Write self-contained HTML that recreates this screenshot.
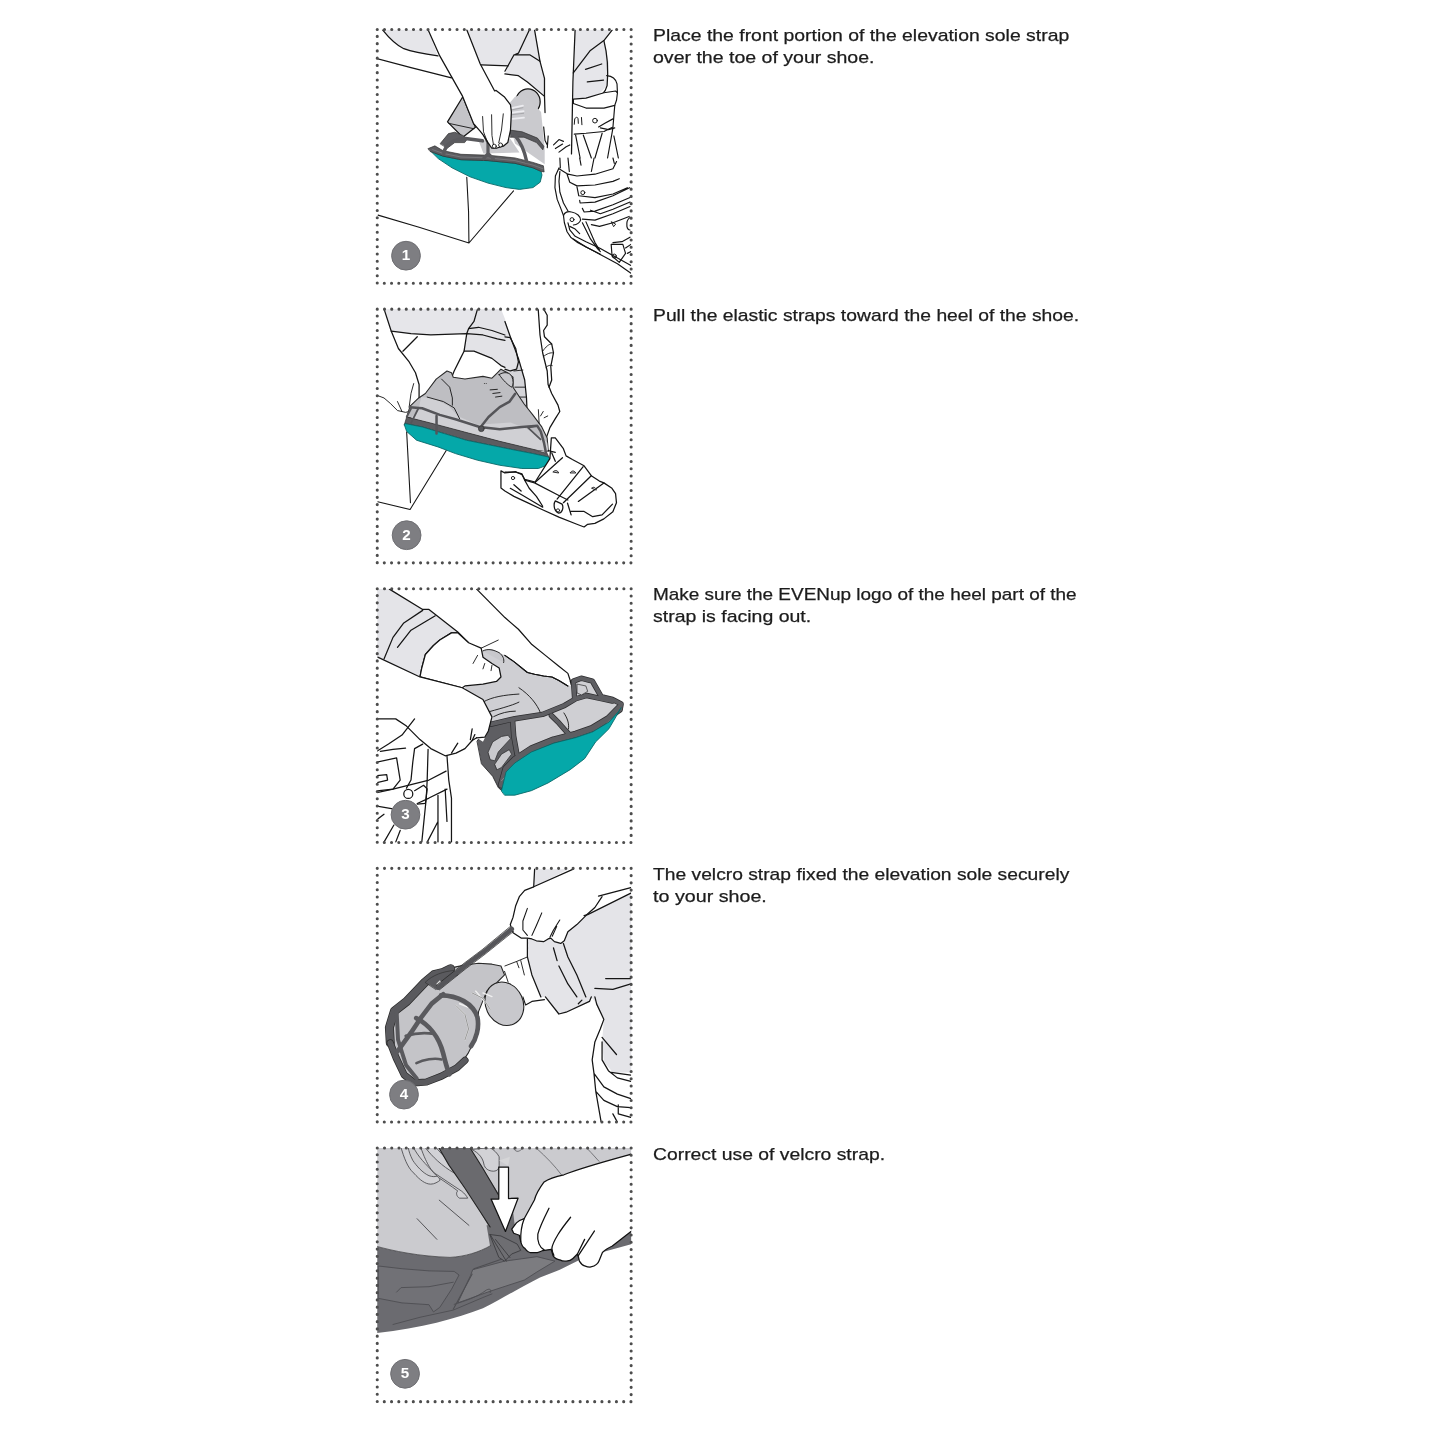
<!DOCTYPE html><html><head><meta charset='utf-8'><style>
html,body{margin:0;padding:0;background:#fff;}
body{width:1445px;height:1445px;position:relative;overflow:hidden;}
.t{position:absolute;left:653.4px;font-family:"Liberation Sans",sans-serif;font-size:17px;line-height:20px;color:#1c1c1c;white-space:nowrap;transform-origin:0 0;will-change:transform;-webkit-text-stroke:0.25px #1c1c1c;}
svg{position:absolute;left:0;top:0;will-change:transform;}
</style></head><body>
<svg width="1445" height="1445" viewBox="0 0 1445 1445">
<defs><clipPath id="c0"><rect x="377.25" y="29.55" width="253.90" height="253.70"/></clipPath><clipPath id="c1"><rect x="377.25" y="309.15" width="253.90" height="253.70"/></clipPath><clipPath id="c2"><rect x="377.25" y="588.75" width="253.90" height="253.70"/></clipPath><clipPath id="c3"><rect x="377.25" y="868.35" width="253.90" height="253.70"/></clipPath><clipPath id="c4"><rect x="377.25" y="1147.95" width="253.90" height="253.70"/></clipPath></defs>
<g clip-path="url(#c0)"><g transform="translate(375,28) scale(0.179931)" stroke-linejoin="round" stroke-linecap="round" fill="none" stroke="#151515" stroke-width="7">
<!-- light gray areas -->
<path d="M42,10 C70,45 110,90 160,115 C200,130 240,140 240,140 C280,148 320,152 350,155 L295,10 Z" fill="#e6e6ea" stroke="none"/>
<path d="M512,10 L857,10 L797,140 L772,150 L740,210 L590,205 Z" fill="#e6e6ea" stroke="none"/><path d="M740,210 L772,150 L797,140 L857,10 L887,10 L917,185 L942,280 L942,380 L847,300 L797,265 L722,255 Z" fill="#e6e6ea" stroke="none"/>
<path d="M1112,10 L1320,10 L1275,70 L1300,200 L1290,320 L1230,385 L1170,405 L1102,410 Z" fill="#e6e6ea" stroke="none"/>
<!-- knee -->
<ellipse cx="850" cy="410" rx="68" ry="72" fill="#c9c9cd"/>
<!-- shoe gray parts -->
<path d="M748,417 L778,382 L828,367 L923,467 L943,667 L943,757 L778,642 L758,567 Z" fill="#cacace" stroke="none"/>
<path d="M578,632 L753,617 L803,692 L603,697 Z" fill="#cacace" stroke="none"/>
<path d="M760,445 L822,432 M760,470 L826,462 M765,505 L828,498" stroke="#ececf0" stroke-width="10"/>
<path d="M760,455 L822,443 M760,482 L826,474" stroke="#8a8a8e" stroke-width="3"/>
<path d="M403,522 L488,382 L558,552 L488,607 Z" fill="#c4c4c8"/>
<path d="M410,530 L550,560" stroke-width="5"/>
<!-- heel dark -->
<path d="M363,642 L408,587 L443,579 L488,597 L513,617 L498,637 L443,637 L403,667 Z" fill="#5e5e62" stroke="#333" stroke-width="4"/>
<!-- teal sole -->
<path d="M308,682 L378,712 L478,732 L628,737 L778,752 L878,777 L923,797 L928,817 L918,857 L878,887 L803,897 L728,887 L628,862 L528,827 L428,777 L353,727 Z" fill="#05a8a9" stroke="#0b6a6a" stroke-width="5"/>
<!-- rim band -->
<path d="M296,670 L333,655 L378,682 L478,702 L628,707 L778,722 L878,747 L936,766 L940,800 L923,797 L878,777 L778,752 L628,737 L478,732 L378,712 L308,687 Z" fill="#5c5c60" stroke="#333" stroke-width="4"/><path d="M320,676 L378,697 L478,717 L628,722 L778,737 L878,762 L932,782" stroke="#8e8e92" stroke-width="3"/>
<!-- straps -->
<path d="M383,697 C388,642 443,617 503,614 L598,627" stroke="#5a5a5e" stroke-width="20"/>
<path d="M598,572 L628,637 L628,697 M628,697 L603,727 M628,697 L658,727" stroke="#5a5a5e" stroke-width="18"/>
<path d="M748,567 L818,577 L903,612 L938,657 L933,677 L898,637 L828,607 L753,607 Z" fill="#5a5a5e" stroke="#333" stroke-width="4"/>
<path d="M778,597 C803,627 828,667 843,742" stroke="#5a5a5e" stroke-width="19"/>
<!-- arm + hand (white) -->
<path d="M295,10 L360,155 L425,270 L487,380 L548,532 L583,572 L603,597 L628,637 L648,667 L678,667 L713,657 L738,637 L753,567 L758,467 L753,427 L718,382 L673,347 L665,350 L585,200 L510,10 Z" fill="#fff" stroke="none"/><path d="M295,10 L360,155 L425,270 L487,380 L548,532 L583,572 L603,597 L628,637 L648,667 L678,667 L713,657 L738,637 L753,567 L758,467 L753,427 L718,382 L673,347 L665,350 L585,200 L510,10"/>
<path d="M598,492 L603,577 L628,642 M648,482 L650,597 L658,647 M713,477 L703,567 L688,637" stroke-width="5"/>
<circle cx="663" cy="657" r="11" fill="#fff" stroke-width="5"/>
<circle cx="698" cy="650" r="11" fill="#fff" stroke-width="5"/>
<!-- upper lines -->
<path d="M42,10 C70,45 110,90 160,115 C200,130 240,140 350,155"/>
<path d="M10,170 L200,220 L425,277"/>
<path d="M857,12 L797,140 L772,150 L722,240 M772,150 L862,150 L917,185 L942,280 L942,380 M722,255 L797,265 L847,300 L942,380"/>
<path d="M887,12 L917,185 M942,380 L945,470 M590,205 L740,210"/>
<path d="M1112,12 L1100,300 L1092,700"/>
<path d="M1318,12 L1272,70 L1197,125 L1102,250"/>
<path d="M1272,70 C1285,120 1300,200 1290,320 C1280,360 1250,385 1230,385 M1170,230 L1260,200 M1180,300 L1270,290 M1102,410 L1230,385"/>
<!-- box -->
<path d="M17,1040 L245,1107 L522,1195 L770,905 M510,830 L520,1022 L522,1195" stroke-width="6"/>
<!-- brace (TR quad coords) -->
</g>
<g transform="translate(505,28) scale(0.0899654)" stroke-linejoin="round" stroke-linecap="round" fill="none" stroke="#151515" stroke-width="13">
<path d="M760,790 L900,780 L1100,720 L1230,700 L1250,720 L1240,800 L1220,860 L1100,890 L900,890 L760,840 Z" fill="#fff"/>
<path d="M1130,530 C1180,535 1230,560 1245,620 L1250,720"/>
<path d="M1220,860 L1200,1100 M770,1180 L900,1170 L1100,1150 L1200,1100"/>
<path d="M770,1070 L775,1010 C790,985 810,990 812,1010 L815,1060 M850,995 L855,1075" stroke-width="11"/>
<circle cx="1000" cy="1030" r="26" stroke-width="11"/>
<path d="M1040,1100 L1110,1060 L1200,1010 M1060,1110 L1150,1130 L1220,1110"/>
<path d="M785,1190 L835,1445 M870,1190 L960,1445 M1080,1170 L1000,1445 M1200,1110 L1140,1445 M1210,1200 L1260,1445"/>
<path d="M430,1100 L445,1250 L470,1300 M480,1200 L470,1330 M540,1300 L600,1240 L650,1260 M560,1340 L640,1290 M600,1380 L680,1320 L720,1300"/>
</g>
<g transform="translate(505,158) scale(0.0899654)" stroke-linejoin="round" stroke-linecap="round" fill="none" stroke="#151515" stroke-width="13">
<path d="M600,110 L560,200 L555,330 L580,460 L620,560 L650,640 L660,720 L690,820 L730,880 L800,935 L950,1015 L1100,1095 L1250,1175 L1400,1280"/>
<path d="M610,150 L600,260 L610,380 L650,500 L700,590"/>
<path d="M700,720 L720,800 L780,870 L900,930 L1050,1000 L1200,1085 L1400,1195"/>
<path d="M760,900 L900,990 L1060,1070"/>
<path d="M600,120 L700,180 L800,200 L1000,180 L1200,120 L1240,40 M690,180 L720,270 L800,310 L1000,300 L1200,260 L1270,230"/>
<path d="M800,320 L820,420 L1000,440 L1200,400 L1360,330 M830,470 L835,500 L1000,490 L1200,420 L1385,330"/>
<circle cx="865" cy="385" r="22" stroke-width="11"/>
<path d="M860,560 L880,600 L1000,590 L1200,520 L1390,440 M950,580 L1060,620 L1200,570 L1390,490"/>
<path d="M860,680 L1000,690 L1200,620 L1390,540 M960,740 L1050,760 L1200,720 L1380,650"/>
<path d="M650,640 C660,600 700,590 740,600 C800,610 840,650 840,690 C830,720 800,740 760,745"/>
<circle cx="745" cy="685" r="22" stroke-width="11"/>
<path d="M720,760 L780,790 L830,840 M860,720 L950,900 L1030,1010 L1060,1040 M900,710 L1000,940 L1050,1020"/>
<path d="M1180,960 L1190,1090 L1270,1160 L1340,1060 L1310,960 Z M1200,940 L1300,930 L1390,880"/>
<circle cx="1215" cy="1090" r="22" stroke-width="11"/>
<path d="M1185,710 L1230,735 L1210,760 Z" stroke-width="10"/>
<path d="M1390,660 C1360,680 1350,720 1355,760 C1360,790 1380,800 1390,800 M1340,1000 L1400,960 M1360,1060 L1400,1040"/>
<path d="M610,0 L615,110 M700,0 L715,150 M830,0 L845,80 M990,0 L960,150 M1200,0 L1215,60"/>
</g>
</g>
<g transform="translate(377.25,29.55)">
<circle cx="28.75" cy="226.15" r="14.4" fill="#7e7e82" stroke="#6e6e72" stroke-width="1"/>
<text x="28.75" y="230.55" text-anchor="middle" font-family="Liberation Sans" font-weight="bold" font-size="15.2" fill="#fff">1</text>
<rect x="0" y="0" width="253.9" height="253.7" fill="none" stroke="#4d4d4d" stroke-width="3.1" stroke-linecap="round" stroke-dasharray="0 7.2543"/>
</g>
<g clip-path="url(#c1)"><g transform="translate(375,308) scale(0.179931)" stroke-linejoin="round" stroke-linecap="round" fill="none" stroke="#151515" stroke-width="7">
<!-- light gray areas -->
<path d="M50,5 L570,5 L550,75 L520,115 L510,142 L310,150 L200,142 L90,128 Z" fill="#e6e6ea" stroke="none"/>
<path d="M550,5 L700,5 L722,60 L752,160 L797,280 L832,400 L842,500 L847,615 L770,560 L736,360 L722,330 L700,320 L650,280 L550,240 L495,240 L510,142 L520,115 Z" fill="#e3e3e7" stroke="none"/>
<path d="M722,340 L752,350 L787,340 L800,300 L832,400 L842,500 L847,615 L800,600 L760,500 L700,380 Z" fill="#d5d5d9" stroke="none"/>
<!-- lines top -->
<path d="M50,5 L90,128 L130,225 L190,300 L225,360 L245,425 L245,500 L235,530"/>
<path d="M90,128 L200,142 L310,150 L510,142 L600,150 L680,172 L722,180"/>
<path d="M570,5 L550,75 L520,115 L510,142 L495,240 L475,280 L440,350 L430,375"/>
<path d="M520,115 L575,107 L650,125 L722,150 M495,240 L550,240 L650,280 L700,320 L722,330"/>
<path d="M155,240 L235,160"/>
<path d="M722,75 L752,160 L797,280 L832,400 L842,500 L847,615"/>
<path d="M722,160 L752,165 L782,225 L797,300 L787,340 L752,350 L722,340"/>
<path d="M772,350 L822,345 M777,440 L832,440 M772,495 L837,495" stroke-width="5"/>
<!-- right leg -->
<path d="M907,5 L917,150 L932,250 L957,350 L962,425 L982,475 L1017,540 L1027,575 L1002,615 L972,665 L952,722"/>
<path d="M937,5 L957,40 L957,95 L937,125 L942,160 L982,200 L992,250 L977,325 L982,400 L967,440"/>
<path d="M932,240 C950,215 965,200 982,200 M935,270 C955,255 975,245 992,250 M950,330 C965,315 980,318 985,320" stroke-width="5"/>
<!-- left fingers -->
<path d="M215,420 L200,475 L190,550 M10,485 L50,500 L85,530 L125,570 L170,580 L190,575 M125,520 L150,575" stroke-width="5"/>
<!-- shoe -->
<path d="M195,545 L243,500 L280,475 L340,395 L400,350 L425,360 L435,385 L500,395 L600,380 L650,390 L680,360 L700,340 L736,360 L767,385 L767,440 L791,477 L828,532 L877,594 L927,661 L957,723 L963,797 L877,785 L693,741 L508,692 L324,643 L176,606 Z" fill="#bebec2" stroke="#2a2a2a" stroke-width="6"/>
<path d="M256,495 L324,501 L410,545 L459,600 L570,649 L754,637 L877,686 L957,748 L963,797 L877,785 L693,741 L508,692 L324,643 L200,612 L243,563 Z" fill="#d0d0d4" stroke="none"/>
<path d="M370,395 L415,440 L430,500 L430,540 M290,495 L380,520 L440,555 L470,615" stroke-width="5"/>
<path d="M690,370 C720,350 750,360 760,380 C770,400 770,430 760,440 C740,430 710,400 690,370 Z" fill="#c8c8cc" stroke-width="5"/>
<circle cx="608" cy="420" r="3" fill="#333" stroke="none"/><circle cx="618" cy="420" r="3" fill="#333" stroke="none"/>
<path d="M640,455 L680,452 M655,475 L695,470 M670,495 L705,490" stroke-width="5"/>
<!-- rim -->
<path d="M163,649 L176,606 L324,643 L508,692 L693,741 L877,785 L957,809 L975,846 L963,828 L877,809 L754,785 L631,760 L508,735 L385,698 L262,661 L170,643 Z" fill="#5c5c60" stroke="#333" stroke-width="4"/>
<!-- teal -->
<path d="M170,643 L262,661 L385,698 L508,735 L631,760 L754,785 L877,809 L963,828 L976,846 L963,871 L908,892 L816,892 L693,874 L570,846 L447,809 L350,772 L231,735 L176,686 L163,649 Z" fill="#05a8a9" stroke="#0b6a6a" stroke-width="5"/>
<!-- straps -->
<path d="M194,551 L262,557 L360,594 L447,618 L582,661 L693,674 L816,661 L902,655 L921,686 L939,748 L951,809" stroke="#555559" stroke-width="14"/>
<path d="M342,600 L342,698 M582,668 L631,606 L693,551 L748,520 L779,477" stroke="#555559" stroke-width="14"/>
<path d="M902,655 L850,665 L920,730" stroke="#555559" stroke-width="10"/>
<circle cx="591" cy="671" r="16" fill="#555559" stroke="#333" stroke-width="4"/>
<path d="M200,560 L176,606 M240,560 L200,640" stroke="#555559" stroke-width="10"/>
<!-- helper hand fingers -->
<path d="M908,565 L912,640 M935,575 L920,600 M960,600 L940,610" stroke-width="5"/>
<!-- box -->
<path d="M176,690 L197,1082 M15,1077 L195,1120 L395,793" stroke-width="6"/>
<!-- brace boot -->
<path d="M700,905 L722,917 L782,910 L817,927 L832,952 L890,967 L972,837 L980,722 L1002,722 L1047,782 L1062,822 L1097,842 L1162,877 L1202,932 L1247,962 L1272,972 L1317,1002 L1337,1032 L1342,1082 L1322,1132 L1272,1172 L1222,1197 L1182,1202 L1162,1217 L1122,1202 L1022,1162 L922,1117 L847,1082 L772,1047 L722,1017 L700,1000 Z" fill="#fff"/>
<path d="M722,912 L782,912 L817,922 L832,957 L857,1002 L897,1047 L932,1102 M752,1002 L822,1042 L932,1107 M772,982 L812,1017" />
<circle cx="767" cy="945" r="9" stroke-width="5"/>
<path d="M832,957 L887,972 L1022,1042 L1072,1067 M892,967 L1042,832 M1012,1062 L1157,882 M1047,1082 L1202,932 M1130,1075 L1272,972"/>
<path d="M1002,1072 C990,1090 995,1130 1020,1140 C1040,1140 1050,1110 1040,1090 Z" />
<circle cx="1017" cy="1125" r="9" stroke-width="5"/>
<path d="M1070,1085 L1090,1150 M1090,1130 L1160,1130 L1210,1160 L1262,1150 L1320,1090"/>
<path d="M990,910 C1000,900 1015,900 1020,915 Z M1085,915 C1095,900 1110,905 1115,915 Z M1205,1000 C1215,990 1230,1000 1230,1010 Z" fill="#d0d0d4" stroke-width="5"/>
<path d="M982,805 L1002,852 M962,792 L1002,802"/>
</g>
</g>
<g transform="translate(377.25,309.15)">
<circle cx="29.35" cy="226.05" r="14.4" fill="#7e7e82" stroke="#6e6e72" stroke-width="1"/>
<text x="29.35" y="230.45" text-anchor="middle" font-family="Liberation Sans" font-weight="bold" font-size="15.2" fill="#fff">2</text>
<rect x="0" y="0" width="253.9" height="253.7" fill="none" stroke="#4d4d4d" stroke-width="3.1" stroke-linecap="round" stroke-dasharray="0 7.2543"/>
</g>
<g clip-path="url(#c2)"><g transform="translate(375,587) scale(0.179931)" stroke-linejoin="round" stroke-linecap="round" fill="none" stroke="#151515" stroke-width="7">
<!-- sleeve gray -->
<path d="M10,10 L80,10 L265,125 L300,125 L460,250 L460,255 L425,255 L360,295 L325,325 L280,375 L260,450 L250,500 L15,390 L10,390 Z" fill="#e4e4e8" stroke="none"/>
<path d="M80,12 L265,125 L300,125 L460,250 L520,310"/>
<path d="M50,400 L100,280 L160,200 L265,130 M125,335 L200,240 L335,160"/>
<path d="M250,500 L260,450 L280,375 L325,325 L360,295 L425,255 L460,255"/>
<!-- shoe light gray -->
<path d="M500,560 L560,420 L600,350 L650,345 L722,380 L772,415 L847,475 L887,485 L937,495 L983,500 L1022,520 L1072,550 L1100,545 L1122,505 L1172,520 L1212,550 L1247,590 L1287,620 L1322,615 L1368,650 L1340,720 L1300,750 L1208,806 L1116,837 L993,868 L869,917 L777,978 L728,1028 L703,1132 L685,1114 L654,1052 L593,984 L568,855 L600,800 L560,700 Z" fill="#cfcfd3" stroke="none"/>
<path d="M722,380 L772,415 L847,475 L887,485 L937,495 L983,500 L1022,520 L1072,550" stroke-width="6"/>
<path d="M600,640 C650,610 720,600 800,595 M610,700 C680,680 760,660 800,640 M660,720 C700,700 740,690 780,690 M800,560 C860,600 900,650 920,700 M1050,700 C1070,730 1080,760 1075,790" stroke-width="5"/>
<!-- hand 1 (upper, white) -->
<path d="M250,500 L260,450 L280,375 L325,325 L360,295 L425,255 L460,255 L520,310 L590,340 L600,390 L650,425 L690,450 L700,500 L675,525 L600,540 L500,550 L485,560 Z" fill="#fff"/>
<path d="M545,425 L570,380 M600,455 L610,425 M645,465 L650,435 M590,340 L685,295" stroke-width="5"/>
<path d="M600,355 C630,340 660,350 690,365 C710,380 720,400 715,420" fill="#c8c8cc" stroke-width="5"/>
<!-- top right arm line -->
<path d="M565,12 L722,170 L797,235 L872,320 L947,380 L1022,440 L1072,480 L1087,525 L1107,560"/>
<path d="M1085,525 L1090,545 L1108,560" stroke-width="5"/>
<path d="M722,380 L772,415 L847,475 L887,485 L937,495 L983,500 L1022,520 L1072,550" stroke-width="6"/>
<!-- dark frame -->
<path d="M568,855 L642,763 L700,750 L765,744 L771,830 L789,929 L777,978 L728,1028 L703,1132 L685,1114 L654,1052 L593,984 Z" fill="#5e5e62" stroke="#2e2e30" stroke-width="5"/>
<path d="M629,917 L654,861 L703,831 L740,824 L753,843 L685,917 L666,966 L642,960 Z" fill="#c9c9cd" stroke="#2e2e30" stroke-width="4"/>
<path d="M666,984 L703,929 L746,904 L759,929 L703,1003 L679,1015 Z" fill="#c9c9cd" stroke="#2e2e30" stroke-width="4"/>
<g stroke="#2e2e30" stroke-width="30"><path d="M642,763 L777,732 L931,708 L1054,658 L1116,621 L1177,603 L1257,621 L1319,634"/>
<path d="M765,744 L771,830 L789,929 M980,714 L1023,757 L1066,806 L1091,830"/>
<path d="M1109,615 L1103,523 L1146,507 L1208,523 L1257,609 L1320,625 L1368,650 L1362,683 L1325,708"/>
<path d="M703,1100 L728,1010 L777,960 L869,900 L993,850 L1116,818 L1208,786 L1300,730 L1356,672" stroke-width="40"/></g>
<g stroke="#5e5e62" stroke-width="22"><path d="M642,763 L777,732 L931,708 L1054,658 L1116,621 L1177,603 L1257,621 L1319,634"/>
<path d="M765,744 L771,830 L789,929 M980,714 L1023,757 L1066,806 L1091,830"/>
<path d="M1109,615 L1103,523 L1146,507 L1208,523 L1257,609 L1320,625 L1368,650 L1362,683 L1325,708"/>
<path d="M703,1100 L728,1010 L777,960 L869,900 L993,850 L1116,818 L1208,786 L1300,730 L1356,672" stroke-width="32"/></g>
<path d="M1125,540 L1172,550 L1182,580 L1148,600 L1125,590 Z" fill="#d0d0d4" stroke="#2e2e30" stroke-width="4"/>
<path d="M703,1077 L777,997 L869,935 L993,886 L1116,849 L1239,800 L1319,732" stroke="#9a9a9e" stroke-width="4"/>
<!-- teal -->
<path d="M703,1132 L728,1028 L777,978 L869,917 L993,868 L1116,837 L1208,806 L1300,751 L1356,689 L1368,670 L1340,720 L1300,788 L1226,861 L1165,954 L1085,1015 L962,1089 L869,1132 L777,1157 L722,1157 Z" fill="#05a8a9" stroke="#0b6a6a" stroke-width="5"/>
<!-- big lower hand -->
<path d="M15,390 L250,500 L485,560 L600,625 L650,722 L630,800 L600,860 L565,838 L540,853 L500,898 L450,923 L390,938 L310,898 L250,848 L175,773 L115,733 L10,733 Z" fill="#fff" stroke="none"/>
<path d="M10,733 L115,733 L175,773 L250,848 L310,898 L390,938 L450,923 L500,898 L540,853 L565,838"/>
<path d="M15,390 L250,500 L485,560 L600,625 L650,722 L630,800 L610,835 L565,838 M425,923 L460,868 M530,848 L540,788 M540,853 L555,820"/>
<path d="M10,913 L75,873 L150,823 L220,733 M30,913 L100,903 L170,895"/>
<!-- brace on leg -->
<path d="M400,938 L410,1073 L425,1173 L425,1418 M265,873 L220,898 L210,973 L200,1073 L175,1118 M295,903 L290,1073 L285,1173 L260,1418"/>
<path d="M10,1133 L100,1123 L200,1098 L300,1073 L395,1023 M235,1203 L300,1173 L400,1123"/>
<path d="M220,1132 L270,1102 L290,1122 L280,1202 L235,1207"/>
<circle cx="185" cy="1150" r="25"/>
<path d="M10,973 L120,950 L140,1073 L100,1123 L10,1143 M10,1048 L65,1043 L70,1073 L10,1088"/>
<path d="M350,1158 L350,1418 M390,1123 L400,1303 M50,1418 L105,1323 M115,1418 L140,1353 M290,1418 L350,1303 M10,1218 L100,1233 M10,1293 L50,1263"/>
</g>
</g>
<g transform="translate(377.25,588.75)">
<circle cx="28.25" cy="225.95" r="14.4" fill="#7e7e82" stroke="#6e6e72" stroke-width="1"/>
<text x="28.25" y="230.35" text-anchor="middle" font-family="Liberation Sans" font-weight="bold" font-size="15.2" fill="#fff">3</text>
<rect x="0" y="0" width="253.9" height="253.7" fill="none" stroke="#4d4d4d" stroke-width="3.1" stroke-linecap="round" stroke-dasharray="0 7.2543"/>
</g>
<g clip-path="url(#c3)"><g transform="translate(375,867) scale(0.179931)" stroke-linejoin="round" stroke-linecap="round" fill="none" stroke="#151515" stroke-width="7">
<!-- trouser light gray -->
<path d="M847,400 L847,500 L872,600 L922,722 L947,722 L1022,817 L1062,807 L1192,747 L1202,722 L1232,762 L1272,847 L1262,972 L1272,1082 L1322,1142 L1445,1142 L1445,140 L1422,145 L1182,265 L1072,360 L1052,420 L1032,425 L997,415 L977,395 L962,400 L937,415 L897,410 L872,400 Z" fill="#e4e4e8" stroke="none"/>
<path d="M887,12 L1102,12 L882,110 Z" fill="#e4e4e8" stroke="none"/>
<path d="M1222,722 L1445,722 L1445,1445 L1260,1445 L1227,1247 L1217,1147 L1207,1072 L1222,972 Z" fill="#fff" stroke="none"/>
<path d="M1262,972 L1272,847 L1232,762 L1222,722 L1445,722 L1445,1142 L1322,1142 L1272,1082 Z" fill="#e4e4e8" stroke="none"/>
<!-- hand -->
<path d="M882,110 L832,130 L802,165 L782,215 L767,280 L752,320 L767,365 L812,395 L847,395 L872,400 L897,410 L937,415 L962,400 L977,395 L997,415 L1032,425 L1052,410 L1072,360 L1122,320 L1172,270 L1222,225 L1262,165 L1242,160 L1422,115 L1445,100 L1445,0 L1102,0 Z" fill="#fff" stroke="none"/>
<path d="M1102,12 L882,110 L832,130 L802,165 L782,215 L767,280 L752,320 L767,365 L812,395 L847,395 L872,400 L897,410 L937,415 L962,400 L977,395 L997,415 L1032,425 L1052,410 L1072,360 L1122,320 L1172,270 L1222,225 L1262,165"/>
<path d="M1242,162 L1422,115 M1422,145 L1182,265 L1162,270 M887,12 L882,110"/>
<path d="M847,230 L822,300 L822,350 L847,380 M927,255 L897,325 L872,380 M1027,295 L992,350 L972,390 M1010,330 L985,385" stroke-width="6"/>
<!-- trouser lines -->
<path d="M847,400 L847,500 L872,600 L922,722 M992,450 L1012,520 M1022,550 L1072,650 L1122,722 M1047,425 L1072,500 L1122,600 L1172,722 M1282,620 L1422,620 M1222,675 L1322,680 L1422,650"/>
<path d="M947,722 L1022,817 L1062,807 L1192,747 L1202,722 M1130,760 L1150,740"/>
<!-- standing leg lines -->
<path d="M1222,722 L1232,762 L1272,847 L1252,900 L1222,972 L1207,1072 L1217,1147 L1227,1247 L1257,1418 M1217,1147 L1272,1222 L1347,1262 L1422,1287 M1227,1247 L1272,1297 L1347,1332 L1422,1337 M1262,972 L1262,1072 L1297,1132 L1347,1172 L1422,1192 M1312,1142 L1422,1157 M1352,1322 L1352,1372 L1422,1392 M1322,1372 L1347,1418 M1262,947 L1342,1042"/>
<!-- sock -->
<path d="M722,550 L787,525 L847,500 M787,525 L800,560 M810,520 L830,600 M720,580 L740,640" stroke-width="5"/>
<path d="M822,722 L837,767 L872,747 L942,737" stroke-width="6"/>
<!-- shoe body -->
<path d="M73,892 L102,794 L171,742 L275,632 L325,585 L400,570 L450,555 L500,545 L575,535 L650,540 L700,550 L720,600 L660,660 L621,690 L575,805 L575,921 L546,978 L517,1036 L459,1123 L373,1169 L286,1203 L217,1209 L159,1163 L113,1065 L79,978 Z" fill="#c4c4c8" stroke="#2a2a2a" stroke-width="6"/>
<!-- toe cap -->
<ellipse cx="719" cy="760" rx="104" ry="124" transform="rotate(-25 719 760)" fill="#c8c8cc" stroke="#222" stroke-width="6"/>
<!-- lace area -->
<path d="M450,770 L500,820 L520,900 L500,960 M470,760 L520,780 M540,700 L600,730 L640,790 M560,690 L620,760 M600,700 L650,720" stroke="#f0f0f0" stroke-width="8"/>
<path d="M450,770 L500,820 L520,900 L500,960 M540,700 L600,730 L640,790" stroke="#444" stroke-width="3"/>
<!-- dark cage -->
<path d="M85,978 L80,892 L108,800 L175,748 L278,640 L328,598 L380,585 L420,565" stroke="#2a2a2a" stroke-width="50"/><path d="M85,978 L80,892 L108,800 L175,748 L278,640 L328,598 L380,585 L420,565" stroke="#5a5a5e" stroke-width="42"/>
<path d="M85,978 L118,1062 L162,1155 L219,1200 L286,1195 L370,1162 L455,1116 L500,1075" stroke="#2a2a2a" stroke-width="40"/><path d="M85,978 L118,1062 L162,1155 L219,1200 L286,1195 L370,1162 L455,1116 L500,1075" stroke="#5a5a5e" stroke-width="32"/>
<path d="M120,800 L128,960 L172,1100 L232,1175" stroke="#5a5a5e" stroke-width="22"/>
<path d="M125,1025 L200,921 L258,834 L315,759 L379,707" stroke="#5a5a5e" stroke-width="26"/>
<path d="M367,713 C459,713 546,759 569,834 C581,892 563,955 534,996" stroke="#5a5a5e" stroke-width="26"/>
<path d="M229,840 C298,875 356,944 379,1036 C390,1082 402,1123 413,1152" stroke="#5a5a5e" stroke-width="26"/>
<path d="M171,938 C229,921 286,921 327,927" stroke="#5a5a5e" stroke-width="16"/>
<path d="M230,1090 C270,1070 330,1060 370,1070" stroke="#5a5a5e" stroke-width="14"/>
<path d="M280,640 C320,600 380,580 440,575 L460,600 C420,620 380,640 340,680 Z" fill="#5a5a5e" stroke="#333" stroke-width="4"/>
<path d="M340,650 L360,630 L375,645 L355,665 Z" fill="#e0e0e0" stroke="none"/>
<!-- strap to hand -->
<path d="M350,670 L500,550 L600,475 L760,345" stroke="#555559" stroke-width="26"/>
<path d="M342,657 L495,535 L595,460 L750,332 M358,683 L505,565 L605,490 L770,358" stroke="#222" stroke-width="4"/>
</g>
</g>
<g transform="translate(377.25,868.35)">
<circle cx="26.75" cy="226.25" r="14.4" fill="#7e7e82" stroke="#6e6e72" stroke-width="1"/>
<text x="26.75" y="230.65" text-anchor="middle" font-family="Liberation Sans" font-weight="bold" font-size="15.2" fill="#fff">4</text>
<rect x="0" y="0" width="253.9" height="253.7" fill="none" stroke="#4d4d4d" stroke-width="3.1" stroke-linecap="round" stroke-dasharray="0 7.2543"/>
</g>
<g clip-path="url(#c4)"><g transform="translate(375,1146) scale(0.179931)" stroke-linejoin="round" stroke-linecap="round">
<path d="M0,0 H1445 V470 L642,554 C580,590 500,615 417,619 C250,614 100,584 0,555 Z" fill="#cbcbcf"/>
<!-- lace loops -->
<path d="M145,10 C160,60 180,120 215,150 C250,190 280,212 310,212 C330,212 350,200 362,190 L350,165 C335,172 320,172 300,165 C265,150 230,110 210,80 C195,50 188,30 185,10 Z" fill="#d2d2d6" stroke="#505054" stroke-width="5"/>
<path d="M215,10 C240,60 280,100 330,150 C380,185 430,215 480,250 C500,265 510,280 515,290 L470,290 C450,280 450,255 460,250 C420,220 390,200 360,180 C320,150 290,110 255,10 Z" fill="#d2d2d6" stroke="#505054" stroke-width="5"/>
<path d="M280,10 C320,60 370,110 440,150 L480,180 L500,170 C450,120 390,70 340,10 Z" fill="#d2d2d6" stroke="#505054" stroke-width="5"/>
<path d="M540,20 C580,40 600,70 605,100 C610,125 630,140 660,140 C680,140 690,125 690,110 L690,60 C680,40 660,20 640,10 Z" fill="#d2d2d6" stroke="#505054" stroke-width="5"/>
<path d="M690,80 L740,110 L750,60 Z" fill="#d6d6d8"/>
<!-- right-top lines -->
<path d="M900,15 C950,60 1000,110 1040,165 M1180,15 C1210,45 1230,70 1245,85 M770,15 C790,40 800,30 820,15" stroke="#6c6c70" stroke-width="5" fill="none"/>
<!-- strap end dark behind hand -->
<path d="M620,440 L770,430 L830,470 L840,560 L880,600 L760,640 L700,620 L640,560 Z" fill="#6a6a6e"/>
<!-- sole dark -->
<path d="M0,555 C100,584 250,614 417,619 C500,615 580,590 642,554 L760,600 L1445,455 V540 L1282,585 L1136,633 L1027,688 L917,731 C800,790 720,840 600,902 C450,960 250,1015 0,1040 Z" fill="#6b6b70"/>
<path d="M0,555 C100,584 250,614 417,619 C500,615 580,590 642,554" fill="none" stroke="#3a3a3e" stroke-width="4"/>
<!-- sole windows lighter -->
<path d="M20,667 L150,682 L300,694 L440,697 L467,717 L425,797 L360,897 L325,922 L300,882 L150,872 L20,847 Z" fill="#717176" stroke="#4e4e52" stroke-width="5"/>
<path d="M545,687 L720,640 L900,615 L1000,640 L900,700 L830,745 L640,807 L460,872 L530,722 Z" fill="#7c7c80" stroke="#4e4e52" stroke-width="5"/>
<path d="M120,812 L145,787 L300,782 L435,757" fill="none" stroke="#4e4e52" stroke-width="5"/>
<path d="M540,712 L435,907 M550,682 L722,622" fill="none" stroke="#4e4e52" stroke-width="6"/>
<path d="M100,992 L250,952 L435,912 L600,842 L650,822" fill="none" stroke="#4e4e52" stroke-width="5"/>
<path d="M440,880 C500,860 560,845 620,800 C640,790 650,800 640,815" fill="none" stroke="#4e4e52" stroke-width="5"/>
<!-- upper lines -->
<path d="M357,301 L522,441 M234,404 L344,519" stroke="#48484c" stroke-width="5" fill="none"/>
<!-- strap -->
<path d="M355,10 L528,10 L600,125 L690,270 L760,300 L780,470 L800,520 L700,560 L660,500 L640,460 L575,350 L500,235 L410,105 Z" fill="#6a6a6e"/>
<path d="M355,10 L410,105 L500,235 L575,350 L640,450" fill="none" stroke="#222" stroke-width="6"/>
<path d="M528,10 L600,125 L685,270" fill="none" stroke="#222" stroke-width="6"/>
<!-- buckle loop -->
<path d="M640,492 L700,500 L790,545 L810,580 L760,600 L720,640 L690,620 Z" fill="#6e6e72" stroke="#3c3c40" stroke-width="5"/>
<path d="M640,492 L730,640 M670,520 L750,620" fill="none" stroke="#3c3c40" stroke-width="5"/>
<!-- arrow -->
<path d="M688,118 L742,118 L742,292 L795,290 L725,475 L645,295 L688,295 Z" fill="#fff" stroke="#111" stroke-width="7"/>
<!-- hand -->
<path d="M1445,40 C1300,80 1150,120 1050,160 C1000,170 960,185 940,200 C910,240 893,275 886,300 L829,404 C810,410 795,418 786,427 L760,462 L771,485 L802,496 L810,531 C815,550 825,565 833,569 C845,585 855,592 864,592 L902,592 C915,590 925,585 933,581 L979,574 L990,611 C1000,625 1015,632 1027,633 C1040,640 1055,641 1063,640 C1080,638 1095,630 1100,625 L1125,600 L1129,611 L1136,640 C1145,655 1155,664 1165,666 C1180,672 1190,673 1195,673 C1210,670 1225,664 1231,658 C1240,650 1244,642 1246,636 L1264,592 C1280,575 1300,565 1319,556 L1421,476 L1445,470 Z" fill="#fff" stroke="#111" stroke-width="7"/>
<path d="M967,346 C940,400 915,450 905,490 C900,530 915,565 940,577 M1087,396 C1060,430 1030,470 1017,492 C1000,520 985,550 983,569 C985,590 990,600 994,608 M1220,472 L1129,611 M1165,519 L1125,600 M829,404 C815,440 808,480 810,531" fill="none" stroke="#111" stroke-width="7"/>
</g>
</g>
<g transform="translate(377.25,1147.95)">
<circle cx="27.80" cy="225.85" r="14.4" fill="#7e7e82" stroke="#6e6e72" stroke-width="1"/>
<text x="27.80" y="230.25" text-anchor="middle" font-family="Liberation Sans" font-weight="bold" font-size="15.2" fill="#fff">5</text>
<rect x="0" y="0" width="253.9" height="253.7" fill="none" stroke="#4d4d4d" stroke-width="3.1" stroke-linecap="round" stroke-dasharray="0 7.2543"/>
</g>
</svg>
<div class="t" style="top:26.10px;transform:scaleX(1.141)">Place the front portion of the elevation sole strap</div>
<div class="t" style="top:48.00px;transform:scaleX(1.149)">over the toe of your shoe.</div>
<div class="t" style="top:305.70px;transform:scaleX(1.136)">Pull the elastic straps toward the heel of the shoe.</div>
<div class="t" style="top:585.30px;transform:scaleX(1.115)">Make sure the EVENup logo of the heel part of the</div>
<div class="t" style="top:607.20px;transform:scaleX(1.1463)">strap is facing out.</div>
<div class="t" style="top:864.90px;transform:scaleX(1.1325)">The velcro strap fixed the elevation sole securely</div>
<div class="t" style="top:886.80px;transform:scaleX(1.158)">to your shoe.</div>
<div class="t" style="top:1144.50px;transform:scaleX(1.137)">Correct use of velcro strap.</div>
</body></html>
